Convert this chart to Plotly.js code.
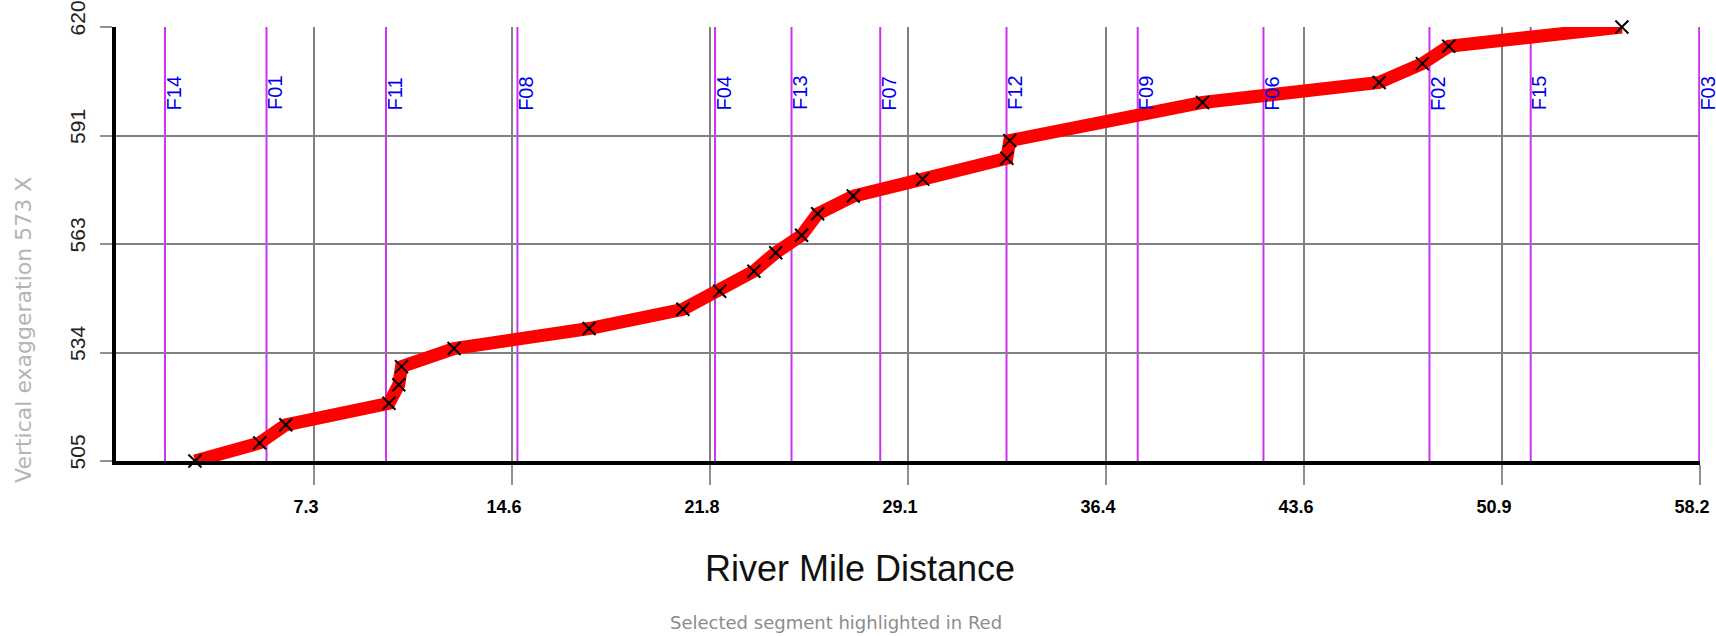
<!DOCTYPE html>
<html><head><meta charset="utf-8">
<script src="https://cdn.plot.ly/plotly-3.0.1.min.js"></script>
<style>html,body{margin:0;padding:0;background:#fff;}#chart{width:1716px;height:636px;}</style>
</head><body><div id="chart"></div>
<script>
// Profile points (river mile, elevation)
const riverMile = [2.90, 5.28, 6.24, 10.03, 10.39, 10.49, 12.42, 17.38, 20.83, 22.18, 23.44, 24.24, 25.19, 25.78, 27.09, 29.64, 32.73, 32.84, 39.92, 46.41, 48.00, 48.97, 55.33];
const elevation = [505.0, 509.8, 514.6, 520.3, 525.2, 530.0, 534.8, 540.1, 545.2, 550.0, 555.3, 560.2, 564.8, 570.5, 575.2, 579.7, 585.2, 589.9, 600.0, 605.3, 610.3, 614.9, 620.0];

// Feature markers (vertical lines)
const faultNames = ['F14','F01','F11','F08','F04','F13','F07','F12','F09','F06','F02','F15','F03'];
const faultMiles = [1.80, 5.53, 9.92, 14.75, 22.01, 24.82, 28.08, 32.72, 37.54, 42.16, 48.26, 51.98, 58.17];
const faultLabelElev = 602.4;

// Axis ticks
const xTickVals = [7.275, 14.55, 21.825, 29.1, 36.375, 43.65, 50.925, 58.2];
const xTickText = ['7.3','14.6','21.8','29.1','36.4','43.6','50.9','58.2'];
const yTickVals = [505, 533.75, 562.5, 591.25, 620];
const yTickText = ['505','534','563','591','620'];

const xTitle = 'River Mile Distance';
const yTitle = 'Vertical exaggeration 573 X';
const subTitle = 'Selected segment highlighted in Red';

const shapes = faultMiles.map(m => ({
  type: 'line', xref: 'x', yref: 'paper', x0: m, x1: m, y0: 0, y1: 1,
  line: {color: '#cc33ee', width: 2}, layer: 'between'
}));

const annotations = faultNames.map((n, i) => ({
  text: n, x: faultMiles[i], y: faultLabelElev, xref: 'x', yref: 'y',
  showarrow: false, textangle: -90, xanchor: 'center', yanchor: 'middle', xshift: 9,
  font: {family: 'Liberation Sans, Arial, sans-serif', size: 20, color: '#0000ee'}
}));

annotations.push({
  text: yTitle, xref: 'paper', yref: 'paper', x: 0, y: 0.302, xshift: -92,
  showarrow: false, textangle: -90, xanchor: 'center', yanchor: 'middle',
  font: {family: 'DejaVu Sans, sans-serif', size: 22, color: '#b4b4b4'}
});
annotations.push({
  text: xTitle, xref: 'paper', yref: 'paper', x: 0.4697, y: 0, yshift: -107,
  showarrow: false, xanchor: 'center', yanchor: 'middle',
  font: {family: 'Liberation Sans Narrow, Arial Narrow, Liberation Sans, sans-serif', size: 36, color: '#111'}
});
annotations.push({
  text: subTitle, xref: 'paper', yref: 'paper', x: 0.4545, y: 0, yshift: -161,
  showarrow: false, xanchor: 'center', yanchor: 'middle',
  font: {family: 'DejaVu Sans, sans-serif', size: 18, color: '#8c8c8c'}
});

const trace = {
  x: riverMile, y: elevation, type: 'scatter', mode: 'lines+markers',
  line: {color: '#ff0000', width: 13},
  marker: {symbol: 'x-thin-open', size: 13, color: '#000', line: {color: '#000', width: 2}},
  cliponaxis: false, hoverinfo: 'skip'
};

const layout = {
  width: 1716, height: 636,
  margin: {l: 116, r: 16, t: 27, b: 175, pad: 0},
  paper_bgcolor: '#fff', plot_bgcolor: '#fff',
  showlegend: false,
  xaxis: {
    range: [0, 58.2], tickmode: 'array', tickvals: xTickVals, ticktext: xTickText,
    showgrid: true, gridcolor: '#808080', gridwidth: 2,
    showline: true, linecolor: '#000', linewidth: 4,
    ticks: 'outside', ticklen: 20, tickcolor: '#909090', tickwidth: 2,
    ticklabelstandoff: 6, ticklabelshift: -8,
    tickfont: {family: 'Liberation Sans, Arial, sans-serif', size: 18, color: '#000', weight: 'bold'},
    zeroline: false, fixedrange: true
  },
  yaxis: {
    range: [505, 620], tickmode: 'array', tickvals: yTickVals, ticktext: yTickText,
    showgrid: true, gridcolor: '#808080', gridwidth: 2,
    showline: true, linecolor: '#000', linewidth: 4,
    ticks: 'outside', ticklen: 12, tickcolor: '#909090', tickwidth: 2,
    tickangle: -90, ticklabelstandoff: 7, ticklabelshift: -6,
    tickfont: {family: 'Liberation Sans, Arial, sans-serif', size: 21, color: '#222'},
    zeroline: false, fixedrange: true
  },
  shapes: shapes,
  annotations: annotations
};

Plotly.newPlot('chart', [trace], layout, {staticPlot: true, displayModeBar: false});
</script>
</body></html>
